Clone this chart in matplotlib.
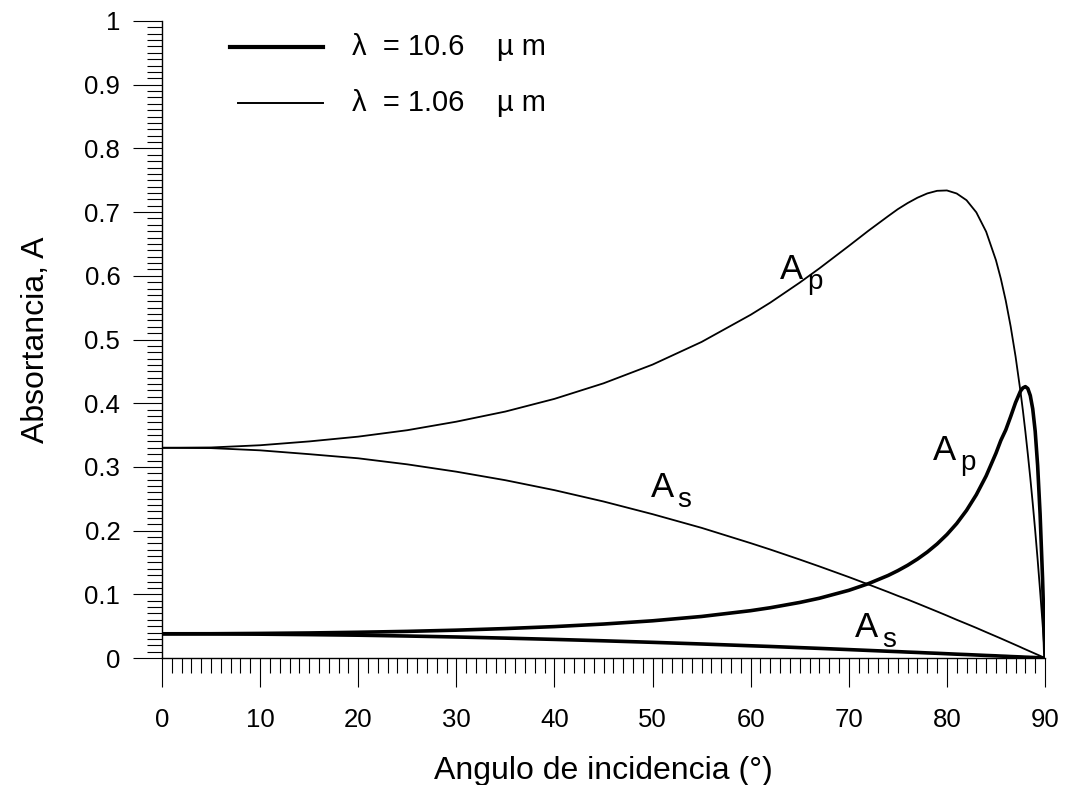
import matplotlib
matplotlib.use("Agg")
import matplotlib.pyplot as plt
from matplotlib.lines import Line2D
from matplotlib.ticker import MultipleLocator

plt.rcParams['font.family'] = ['Liberation Sans', 'DejaVu Sans']

###########
# DATA
###########
angle = [0, 5, 10, 15, 20, 25, 30, 35, 40, 45, 50, 55, 60, 62, 65, 67, 70, 72, 74, 75,
         76, 77, 78, 79, 80, 81, 82, 83, 84, 85, 85.5, 86, 86.5, 87, 87.5, 87.75, 88,
         88.25, 88.5, 88.75, 89, 89.25, 89.5, 89.75, 90]

# lambda = 1.06 um (thin lines)
ap_thin = [0.330, 0.3305, 0.334, 0.340, 0.3475, 0.3576, 0.371, 0.3869, 0.4068, 0.4312,
           0.4606, 0.4962, 0.5388, 0.5579, 0.5893, 0.6116, 0.6468, 0.6707, 0.6935,
           0.7046, 0.7142, 0.7226, 0.7293, 0.7334, 0.734, 0.7292, 0.7187, 0.6996,
           0.6693, 0.6245, 0.5954, 0.561, 0.5205, 0.4733, 0.4184, 0.3882, 0.3553,
           0.320, 0.2827, 0.2427, 0.200, 0.1543, 0.1055, 0.0545, 0.0]
as_thin = [0.330, 0.3295, 0.326, 0.320, 0.3135, 0.304, 0.2925, 0.2791, 0.2635, 0.2457,
           0.2258, 0.2043, 0.1803, 0.1703, 0.1546, 0.1438, 0.1271, 0.1155, 0.1037,
           0.0976, 0.0918, 0.0856, 0.0793, 0.073, 0.0666, 0.060, 0.0537, 0.0473,
           0.0406, 0.034, 0.0307, 0.0273, 0.0239, 0.0205, 0.0171, 0.0153, 0.0136,
           0.0119, 0.0102, 0.0085, 0.0068, 0.0051, 0.0034, 0.0017, 0.0]

# lambda = 10.6 um (thick lines)
ap_thick = [0.038, 0.0381, 0.0386, 0.0393, 0.0404, 0.0418, 0.0437, 0.0462, 0.0493,
            0.0533, 0.0584, 0.0652, 0.0743, 0.0789, 0.0872, 0.0938, 0.1062, 0.1167,
            0.1295, 0.1371, 0.1456, 0.1553, 0.1663, 0.179, 0.1938, 0.2111, 0.2317,
            0.2563, 0.2858, 0.3214, 0.3416, 0.358, 0.379, 0.401, 0.419, 0.424, 0.426,
            0.423, 0.412, 0.391, 0.356, 0.302, 0.226, 0.125, 0.0]
as_thick = [0.038, 0.0379, 0.0374, 0.0367, 0.0358, 0.0345, 0.033, 0.0312, 0.0292,
            0.027, 0.0246, 0.022, 0.0192, 0.0181, 0.0163, 0.0151, 0.0132, 0.0119,
            0.0106, 0.010, 0.0093, 0.0087, 0.008, 0.0074, 0.0067, 0.006, 0.0054,
            0.0047, 0.004, 0.0034, 0.003, 0.0027, 0.0023, 0.002, 0.0017, 0.0015,
            0.0013, 0.0012, 0.001, 0.0009, 0.0007, 0.0005, 0.0003, 0.0002, 0.0]

legend_labels = ['\u03bb  = 10.6    \u00b5 m', '\u03bb  = 1.06    \u00b5 m']

###########
# FIGURE
###########
W, H = 1066, 785
fig = plt.figure(figsize=(W / 100, H / 100), dpi=100)
ax = fig.add_axes([162 / W, 1 - 658 / H, (1045 - 162) / W, (658 - 21) / H])

thick = 2.6
thin = 1.3
ax.plot(angle, ap_thin, color='black', lw=thin, solid_joinstyle='round')
ax.plot(angle, as_thin, color='black', lw=thin, solid_joinstyle='round')
ax.plot(angle, ap_thick, color='black', lw=thick, solid_joinstyle='round')
ax.plot(angle, as_thick, color='black', lw=thick, solid_joinstyle='round')

ax.set_xlim(0, 90)
ax.set_ylim(0, 1)

# Formatting
for side in ['top', 'right']:
    ax.spines[side].set_visible(False)
for side in ['left', 'bottom']:
    ax.spines[side].set_linewidth(1.0)

ax.xaxis.set_major_locator(MultipleLocator(10))
ax.xaxis.set_minor_locator(MultipleLocator(1))
ax.yaxis.set_major_locator(MultipleLocator(0.1))
ax.yaxis.set_minor_locator(MultipleLocator(0.01))
ax.tick_params(which='major', direction='out', length=21, width=0.8, labelsize=18.5)
ax.tick_params(which='minor', direction='out', length=10.5, width=0.8)
ax.tick_params(axis='x', which='major', pad=15)
ax.tick_params(axis='y', which='major', pad=9)
ax.set_yticks([i / 10 for i in range(11)])
ax.set_yticklabels(['0'] + ['0.%d' % i for i in range(1, 10)] + ['1'])

ax.set_xlabel('Angulo de incidencia (°)', fontsize=23, labelpad=17)
ax.set_ylabel('Absortancia, A', fontsize=23, labelpad=24)


def curve_label(x, y, sub):
    # main letter plus a lowered, slightly smaller subscript
    ax.text(x, y, 'A', fontsize=25, ha='left', va='baseline')
    ax.annotate(sub, xy=(x, y), xytext=(19.5, -7), textcoords='offset points',
                fontsize=20, ha='left', va='baseline')


curve_label(63.0, 0.595, 'p')
curve_label(49.8, 0.253, 's')
curve_label(78.6, 0.311, 'p')
curve_label(70.6, 0.033, 's')

# Legend drawn by hand
fig.add_artist(Line2D([230 / W, 323 / W], [1 - 47 / H, 1 - 47 / H], color='black', lw=3.0))
fig.add_artist(Line2D([238 / W, 323 / W], [1 - 103 / H, 1 - 103 / H], color='black', lw=1.4))
fig.text(352 / W, 1 - 47 / H, legend_labels[0], fontsize=21, ha='left', va='center')
fig.text(352 / W, 1 - 103 / H, legend_labels[1], fontsize=21, ha='left', va='center')

plt.savefig('out.png', dpi=100)
plt.close(fig)
